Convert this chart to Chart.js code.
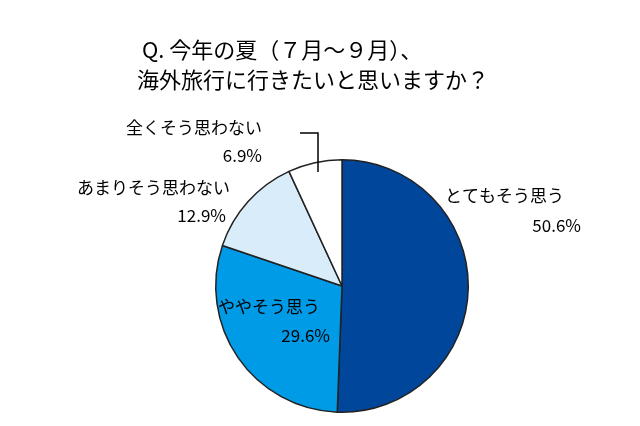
<!DOCTYPE html>
<html><head><meta charset="utf-8">
<script src="https://cdn.jsdelivr.net/npm/chart.js"></script>
<style>html,body{margin:0;padding:0;background:#fff}</style></head>
<body><canvas id="c" width="640" height="426" style="width:640px;height:426px"></canvas>
<script>
const categories=["とてもそう思う","ややそう思う","あまりそう思わない","全くそう思わない"];
const values=[50.6,29.6,12.9,6.9];
const colors=["#00469a","#009be6","#d8ecfa","#ffffff"];
const titleLines=["Q. 今年の夏（７月～９月）、","海外旅行に行きたいと思いますか？"];
const F='"Noto Sans CJK JP", sans-serif';
const labelPlugin={id:'lbl',afterDraw(ch){
  const c=ch.ctx;c.save();c.fillStyle='#000';c.textBaseline='middle';
  c.font='22px '+F;c.textAlign='left';
  c.fillText(titleLines[0],142,50);c.fillText(titleLines[1],137,80);
  c.font='17px '+F;
  const L=[[categories[0],445,196,'left'],[values[0].toFixed(1)+'%',581,226,'right'],
    [categories[1],218,307,'left'],[values[1].toFixed(1)+'%',330,336,'right'],
    [categories[2],230,188,'right'],[values[2].toFixed(1)+'%',226,216,'right'],
    [categories[3],262,128,'right'],[values[3].toFixed(1)+'%',262,156,'right']];
  L.forEach(l=>{c.textAlign=l[3];c.fillText(l[0],l[1],l[2]);});
  c.strokeStyle='#000';c.lineWidth=1.5;c.beginPath();c.moveTo(300,133);c.lineTo(318,133);c.lineTo(318,172);c.stroke();
  c.restore();}};
new Chart(document.getElementById('c'),{type:'pie',
 data:{labels:categories,datasets:[{data:values,backgroundColor:colors,borderColor:'#222',borderWidth:1.5}]},
 options:{responsive:false,animation:false,layout:{padding:{left:215,right:171,top:159,bottom:13}},
  plugins:{legend:{display:false},tooltip:{enabled:false}}},
 plugins:[labelPlugin]});
</script></body></html>
